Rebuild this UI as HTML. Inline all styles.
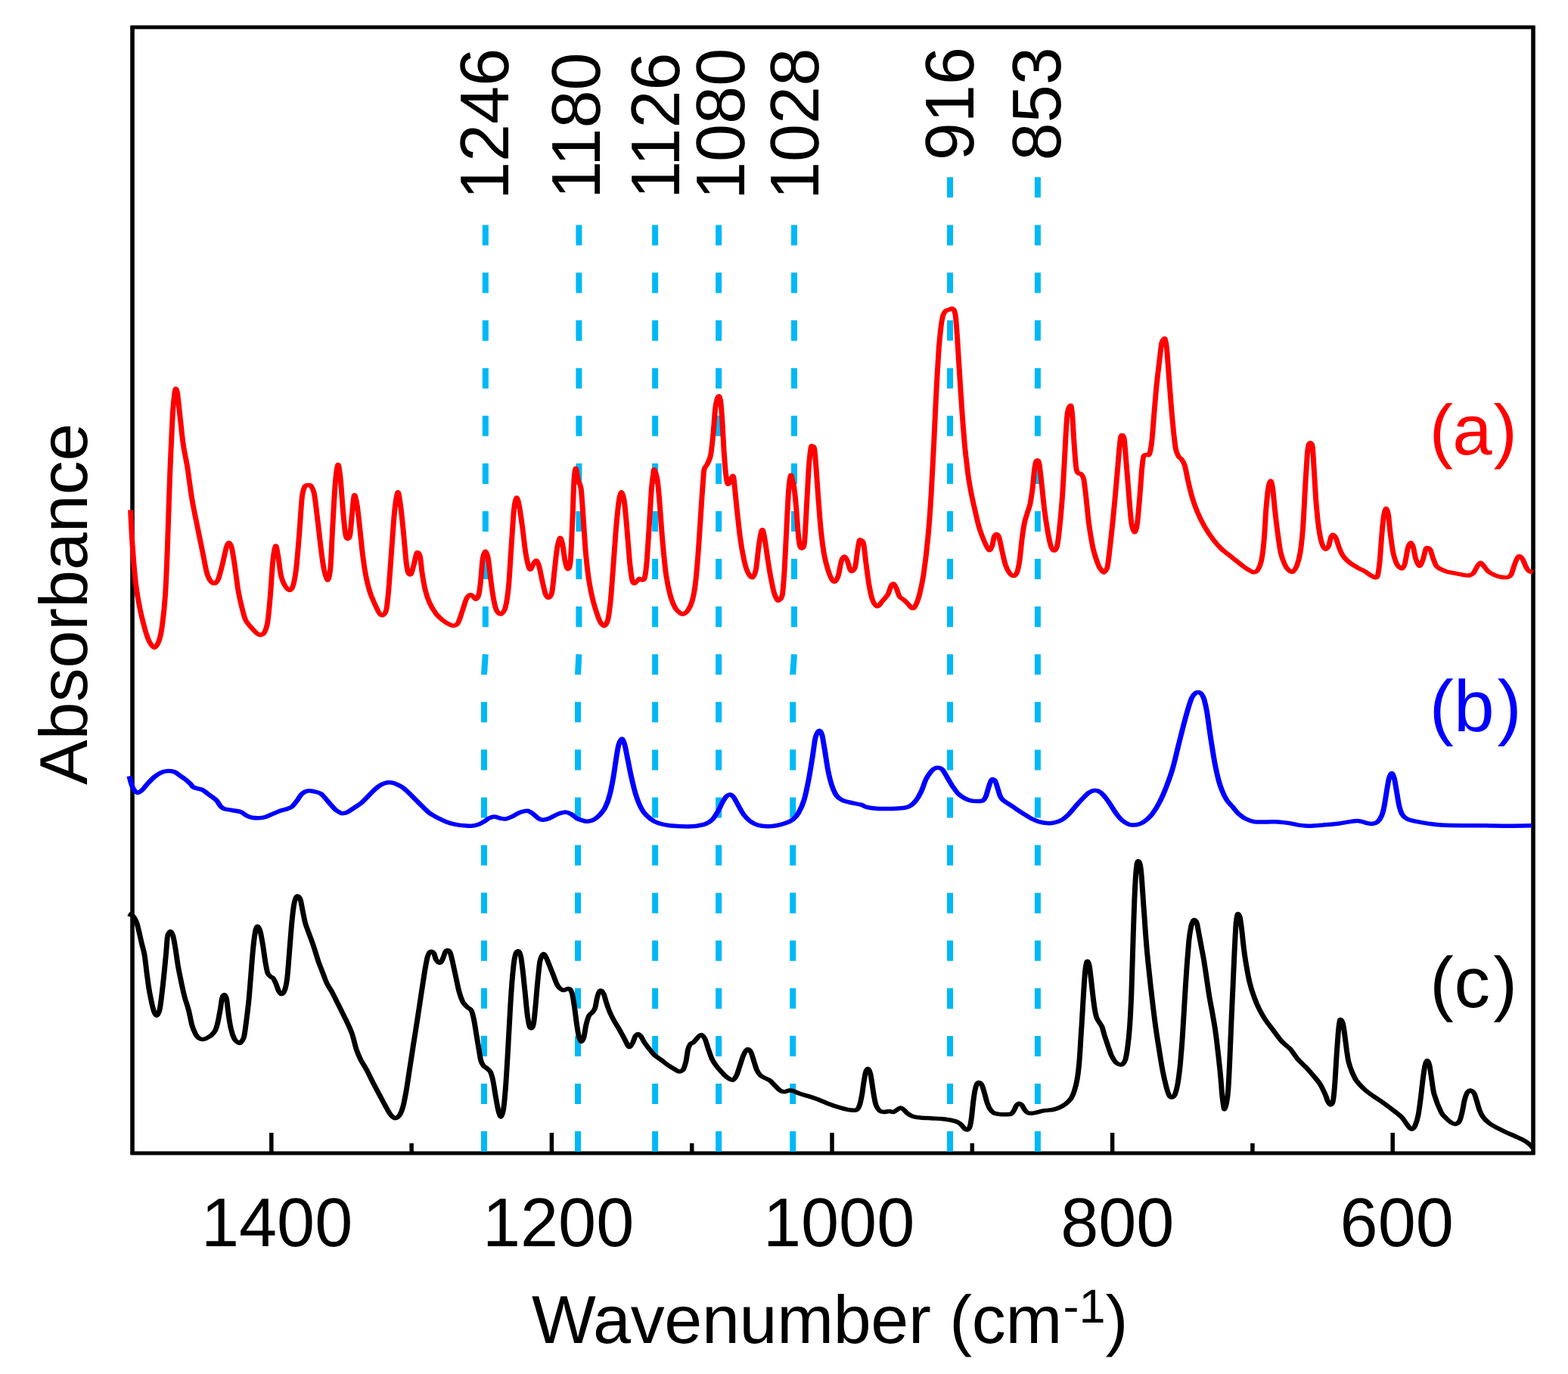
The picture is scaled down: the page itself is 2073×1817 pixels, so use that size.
<!DOCTYPE html>
<html lang="en">
<head>
<meta charset="utf-8">
<title>FTIR absorbance spectra</title>
<style>
html,body{margin:0;padding:0;background:#fff;}
body{width:2073px;height:1817px;overflow:hidden;font-family:"Liberation Sans",sans-serif;}
svg text{text-rendering:geometricPrecision;}
</style>
</head>
<body>
<svg width="2073" height="1817" viewBox="0 0 2073 1817" style="display:block">
<rect x="0" y="0" width="2073" height="1817" fill="#fff"/>
<g stroke="#000" fill="none" stroke-linecap="butt">
<line x1="172.80" y1="35.95" x2="2029.20" y2="35.95" stroke-width="5.0"/>
<line x1="172.80" y1="1525" x2="2029.20" y2="1525" stroke-width="5.0"/>
<line x1="175" y1="34.05" x2="175" y2="1526.90" stroke-width="5.6"/>
<line x1="2027" y1="34.05" x2="2027" y2="1526.90" stroke-width="5.6"/>
</g>
<g stroke="#000" stroke-width="5.5">
<line x1="358.8" y1="1525" x2="358.8" y2="1498"/>
<line x1="544.1" y1="1525" x2="544.1" y2="1511.8"/>
<line x1="729.4" y1="1525" x2="729.4" y2="1498"/>
<line x1="914.7" y1="1525" x2="914.7" y2="1511.8"/>
<line x1="1100.0" y1="1525" x2="1100.0" y2="1498"/>
<line x1="1285.3" y1="1525" x2="1285.3" y2="1511.8"/>
<line x1="1470.6" y1="1525" x2="1470.6" y2="1498"/>
<line x1="1655.9" y1="1525" x2="1655.9" y2="1511.8"/>
<line x1="1841.2" y1="1525" x2="1841.2" y2="1498"/>
</g>
<g fill="none" stroke="#00b8f6" stroke-width="8" stroke-dasharray="27.05 36.04">
<polyline points="641.8,297.4 641.8,865 640,892 640,1523"/>
<polyline points="765.4,297.4 765.4,865 764,892 764,1523"/>
<polyline points="866.1,297.4 866.1,1523"/>
<polyline points="950.1,297.4 950.1,1523"/>
<polyline points="1050,297.4 1050,865 1048.2,892 1048.2,1523"/>
<polyline points="1256,234.3 1256,1523"/>
<polyline points="1371.9,234.3 1371.9,1523"/>
</g>
<g fill="none" stroke-linejoin="round" stroke-linecap="butt" transform="scale(1.27,1)">
<path stroke="#000" stroke-width="5.5" d="M133.6,1208.8C134.3,1209.1 136.9,1209.4 138.2,1211.1C139.5,1212.7 141.2,1216.3 142.2,1219.7C143.2,1223.2 144.3,1229.7 145.1,1233.9C145.9,1238.2 146.8,1243.9 147.6,1248.1C148.4,1252.3 149.5,1256.4 150.3,1261.8C151.1,1267.3 152.0,1278.2 152.6,1284.7C153.3,1291.2 154.1,1299.5 154.8,1305.3C155.5,1311.1 156.7,1318.8 157.5,1323.6C158.3,1328.4 159.4,1334.4 160.2,1337.3C161.0,1340.3 162.0,1343.2 162.9,1343.1C163.8,1342.9 165.2,1340.1 166.0,1336.2C166.8,1332.3 167.6,1323.8 168.3,1316.8C169.0,1309.7 170.0,1297.5 170.7,1289.3C171.3,1281.1 172.3,1269.4 172.8,1261.8C173.4,1254.3 173.8,1243.3 174.3,1239.0C174.7,1234.7 175.5,1234.3 176.1,1233.2C176.6,1232.2 177.3,1231.6 177.9,1232.1C178.5,1232.6 179.3,1233.2 180.0,1236.7C180.8,1240.1 181.9,1248.8 182.7,1255.0C183.5,1261.2 184.5,1271.0 185.4,1277.9C186.4,1284.7 188.0,1294.6 189.0,1300.7C190.1,1306.9 191.2,1313.9 192.3,1319.0C193.4,1324.2 195.1,1329.6 196.2,1335.1C197.4,1340.5 198.8,1350.8 199.8,1355.6C200.9,1360.4 202.4,1364.5 203.4,1367.1C204.5,1369.7 206.0,1371.7 207.0,1372.8C208.1,1373.9 209.4,1374.4 210.7,1374.4C211.9,1374.4 213.8,1373.6 215.2,1372.8C216.5,1372.0 218.3,1370.9 219.7,1369.4C221.0,1367.8 223.1,1365.3 224.2,1362.5C225.2,1359.8 226.1,1355.5 226.9,1351.1C227.7,1346.6 228.9,1337.6 229.6,1332.8C230.2,1328.0 230.7,1321.6 231.4,1319.0C232.0,1316.5 233.0,1315.3 233.7,1315.6C234.4,1316.0 235.3,1317.7 235.9,1321.3C236.5,1324.9 237.0,1333.8 237.7,1339.6C238.3,1345.5 239.4,1355.1 240.4,1360.2C241.3,1365.4 242.9,1371.2 244.0,1373.9C245.1,1376.7 246.6,1377.8 247.6,1378.5C248.5,1379.3 249.3,1380.0 250.3,1379.0C251.2,1378.0 252.9,1376.2 253.9,1371.7C254.8,1367.1 255.8,1356.7 256.6,1348.8C257.4,1340.9 258.6,1328.6 259.3,1319.0C260.0,1309.4 260.8,1295.0 261.5,1284.7C262.1,1274.4 263.1,1258.6 263.8,1250.4C264.5,1242.2 265.5,1233.6 266.1,1229.8C266.8,1226.0 267.6,1224.9 268.3,1225.2C269.0,1225.6 270.2,1228.3 271.0,1232.1C271.8,1235.9 272.9,1244.2 273.7,1250.4C274.5,1256.6 275.6,1267.8 276.4,1273.3C277.2,1278.8 277.9,1284.3 278.7,1287.0C279.6,1289.8 280.9,1290.6 281.8,1291.6C282.7,1292.6 283.7,1292.5 284.5,1293.9C285.3,1295.2 286.4,1298.3 287.2,1300.7C288.0,1303.1 289.1,1307.8 289.9,1309.9C290.7,1311.9 291.7,1314.5 292.6,1314.5C293.6,1314.5 295.3,1313.0 296.2,1309.9C297.2,1306.8 298.2,1301.1 298.9,1293.9C299.7,1286.7 300.4,1272.1 301.1,1261.8C301.8,1251.5 302.7,1234.8 303.4,1225.2C304.1,1215.6 305.1,1203.4 305.8,1197.8C306.4,1192.1 307.3,1189.4 307.9,1187.5C308.6,1185.6 309.4,1184.9 310.1,1185.2C310.8,1185.5 312.0,1186.9 312.8,1189.8C313.5,1192.7 314.4,1200.0 315.1,1204.6C315.9,1209.3 316.8,1215.9 317.8,1220.7C318.9,1225.5 321.0,1231.9 322.3,1236.7C323.7,1241.5 325.5,1247.5 326.8,1252.7C328.2,1257.8 330.0,1266.0 331.3,1271.0C332.7,1276.0 334.5,1281.4 335.8,1285.9C337.2,1290.3 338.9,1296.8 340.4,1300.7C341.8,1304.7 343.9,1307.7 345.8,1312.2C347.6,1316.6 350.8,1325.0 353.0,1330.5C355.1,1336.0 358.1,1343.3 360.2,1348.8C362.2,1354.3 364.9,1361.2 366.5,1367.1C368.1,1372.9 369.6,1382.5 371.0,1387.7C372.3,1392.8 373.9,1397.3 375.5,1401.4C377.1,1405.5 379.8,1410.3 381.8,1415.1C383.8,1419.9 386.8,1428.1 389.0,1433.4C391.2,1438.7 394.2,1445.8 396.2,1450.6C398.2,1455.4 400.9,1461.9 402.5,1465.5C404.1,1469.1 405.7,1472.6 407.0,1474.6C408.4,1476.6 410.2,1478.7 411.5,1478.7C412.9,1478.7 414.8,1476.9 416.0,1474.6C417.2,1472.3 418.5,1468.3 419.6,1463.2C420.7,1458.0 422.1,1448.2 423.2,1440.3C424.3,1432.4 425.7,1419.5 426.8,1410.6C427.9,1401.6 429.3,1390.1 430.4,1380.8C431.6,1371.5 433.2,1358.7 434.4,1348.8C435.6,1338.8 437.4,1324.1 438.5,1314.5C439.7,1304.9 441.2,1291.9 442.1,1284.7C443.1,1277.5 444.1,1270.2 444.8,1266.4C445.6,1262.6 446.3,1260.8 447.0,1259.6C447.7,1258.4 448.6,1258.2 449.3,1258.4C450.0,1258.6 451.0,1259.2 451.7,1260.7C452.4,1262.2 453.1,1266.9 453.8,1268.7C454.6,1270.5 455.7,1272.3 456.5,1272.8C457.4,1273.3 458.5,1273.1 459.2,1272.1C460.0,1271.2 460.7,1268.5 461.4,1266.4C462.1,1264.4 463.0,1259.9 463.8,1258.4C464.5,1257.0 465.7,1256.6 466.5,1256.8C467.2,1257.0 467.9,1257.4 468.6,1259.6C469.3,1261.7 470.1,1266.2 471.0,1271.0C471.8,1275.8 473.4,1285.4 474.5,1291.6C475.5,1297.8 477.0,1307.2 478.1,1312.2C479.2,1317.2 480.5,1321.8 481.7,1324.8C482.9,1327.7 484.8,1329.9 486.2,1331.6C487.5,1333.3 489.6,1333.6 490.7,1336.2C491.8,1338.8 492.6,1343.8 493.4,1348.8C494.2,1353.8 495.3,1363.2 496.1,1369.4C496.9,1375.5 498.1,1385.0 498.8,1390.0C499.5,1394.9 499.9,1399.6 500.6,1402.5C501.3,1405.5 502.4,1407.9 503.3,1409.4C504.2,1411.0 505.8,1411.6 506.9,1412.8C508.0,1414.0 509.6,1415.0 510.5,1417.4C511.4,1419.8 512.4,1424.0 513.2,1428.9C514.0,1433.7 515.1,1443.6 515.9,1449.4C516.7,1455.3 517.8,1463.6 518.6,1467.7C519.4,1471.9 520.5,1476.9 521.3,1476.9C522.1,1476.9 523.3,1473.2 524.0,1467.7C524.7,1462.3 525.5,1451.3 526.2,1440.3C526.9,1429.3 527.8,1409.6 528.5,1394.5C529.2,1379.4 530.2,1354.0 530.9,1339.6C531.5,1325.2 532.4,1308.7 533.0,1298.4C533.7,1288.2 534.5,1276.8 535.2,1271.0C535.9,1265.2 536.8,1261.4 537.5,1259.6C538.3,1257.7 539.5,1257.4 540.2,1258.4C541.0,1259.4 541.7,1261.8 542.4,1266.4C543.1,1271.1 544.0,1281.4 544.7,1289.3C545.4,1297.2 546.4,1310.8 547.1,1319.0C547.7,1327.3 548.6,1338.4 549.2,1344.2C549.9,1350.0 550.7,1355.7 551.4,1357.9C552.1,1360.2 553.1,1359.8 553.7,1359.1C554.4,1358.4 555.0,1357.3 555.5,1353.4C556.1,1349.4 556.7,1340.7 557.3,1332.8C557.9,1324.9 558.8,1309.7 559.5,1300.7C560.2,1291.8 561.2,1278.8 561.8,1273.3C562.5,1267.8 563.3,1265.8 564.0,1264.1C564.7,1262.4 565.6,1261.3 566.3,1261.8C567.1,1262.4 568.1,1265.0 569.0,1267.6C570.0,1270.1 571.6,1275.6 572.7,1279.0C573.7,1282.4 575.2,1287.0 576.3,1290.4C577.3,1293.9 578.8,1299.3 579.9,1301.9C580.9,1304.5 582.4,1306.5 583.5,1307.6C584.5,1308.7 586.0,1309.4 587.1,1309.4C588.1,1309.4 589.7,1307.8 590.7,1307.6C591.6,1307.4 592.6,1307.0 593.4,1308.1C594.1,1309.1 595.0,1311.1 595.7,1314.5C596.4,1317.8 597.2,1325.0 597.9,1330.5C598.5,1336.0 599.4,1345.2 600.0,1351.1C600.7,1356.9 601.6,1365.4 602.4,1369.4C603.1,1373.3 604.3,1377.0 605.1,1377.4C605.9,1377.7 607.0,1374.9 607.8,1371.7C608.5,1368.4 609.3,1359.9 610.1,1355.6C610.9,1351.4 612.2,1345.6 613.2,1343.1C614.2,1340.5 615.8,1340.0 616.8,1338.5C617.7,1336.9 618.8,1335.7 619.5,1332.8C620.2,1329.8 621.0,1322.3 621.7,1319.0C622.3,1315.8 623.3,1312.3 624.0,1311.0C624.7,1309.7 625.5,1309.8 626.2,1310.3C626.8,1310.9 627.7,1312.1 628.5,1314.5C629.3,1316.8 630.3,1322.3 631.2,1325.9C632.1,1329.5 633.6,1334.9 634.8,1338.5C636.0,1342.1 637.8,1346.5 639.3,1349.9C640.8,1353.4 643.1,1357.8 644.7,1361.4C646.3,1365.0 648.8,1370.7 650.1,1373.9C651.5,1377.2 652.9,1381.6 653.7,1383.1C654.6,1384.6 655.1,1384.9 655.9,1384.2C656.6,1383.6 657.9,1380.6 658.8,1378.5C659.6,1376.5 660.5,1372.2 661.3,1370.5C662.1,1368.9 663.3,1367.5 664.2,1367.5C665.1,1367.5 666.2,1368.9 667.2,1370.5C668.2,1372.2 669.5,1375.9 670.8,1378.5C672.2,1381.1 674.6,1385.1 676.2,1387.7C677.9,1390.2 679.9,1393.6 681.6,1395.7C683.4,1397.7 685.9,1399.5 687.9,1401.4C690.0,1403.3 693.0,1406.4 695.1,1408.3C697.3,1410.2 700.6,1412.7 702.4,1414.0C704.1,1415.3 705.5,1417.0 706.9,1417.0C708.2,1417.0 710.3,1416.0 711.4,1414.0C712.4,1412.0 713.3,1407.6 714.1,1403.7C714.8,1399.7 715.6,1391.1 716.2,1387.7C716.9,1384.2 717.7,1382.3 718.6,1380.8C719.5,1379.4 721.1,1379.3 722.2,1378.1C723.3,1376.9 724.8,1374.1 725.8,1372.8C726.7,1371.5 727.7,1370.0 728.5,1369.4C729.2,1368.8 730.0,1368.2 730.8,1368.9C731.6,1369.6 732.9,1371.1 733.9,1373.9C734.9,1376.8 736.4,1383.7 737.5,1387.7C738.6,1391.6 739.9,1397.0 741.1,1400.3C742.3,1403.5 744.1,1406.8 745.6,1409.4C747.1,1412.0 749.4,1415.2 751.0,1417.4C752.6,1419.6 754.9,1422.7 756.4,1424.3C757.9,1425.8 759.8,1427.2 760.9,1427.7C762.0,1428.2 762.7,1428.6 763.6,1427.7C764.5,1426.9 765.9,1424.6 766.8,1422.0C767.8,1419.4 768.9,1414.3 769.9,1410.6C770.9,1406.8 772.6,1399.9 773.5,1396.8C774.5,1393.7 775.4,1391.3 776.2,1390.0C777.0,1388.6 778.1,1387.3 778.9,1387.7C779.8,1388.0 781.1,1389.8 782.0,1392.2C782.9,1394.7 784.0,1400.3 784.9,1403.7C785.8,1407.1 786.9,1412.4 787.9,1415.1C788.9,1417.9 790.3,1420.4 791.5,1422.0C792.7,1423.5 794.5,1424.4 796.0,1425.4C797.5,1426.5 799.8,1427.3 801.4,1428.9C803.1,1430.4 805.2,1433.7 806.8,1435.7C808.4,1437.7 810.7,1440.9 812.2,1442.1C813.6,1443.3 815.3,1443.7 816.7,1443.7C818.0,1443.7 819.8,1442.3 821.2,1442.1C822.5,1442.0 824.0,1442.0 825.7,1442.6C827.3,1443.2 829.7,1445.0 832.0,1446.0C834.3,1447.0 838.0,1448.2 841.0,1449.4C844.0,1450.6 848.5,1452.5 851.8,1454.0C855.0,1455.6 859.4,1458.2 862.6,1459.7C865.8,1461.3 870.4,1463.2 873.4,1464.3C876.4,1465.4 880.1,1466.7 882.4,1467.3C884.7,1467.9 887.2,1468.2 888.7,1468.2C890.2,1468.2 891.4,1468.4 892.3,1467.3C893.3,1466.2 894.3,1463.9 895.0,1460.9C895.8,1457.9 896.7,1452.0 897.4,1447.2C898.0,1442.4 898.9,1433.3 899.5,1428.9C900.1,1424.4 900.7,1419.7 901.3,1417.4C901.9,1415.1 902.8,1413.1 903.5,1413.3C904.2,1413.5 905.2,1415.9 905.8,1418.6C906.5,1421.2 907.0,1426.5 907.6,1431.1C908.2,1435.8 909.1,1444.8 909.8,1449.4C910.5,1454.1 911.2,1459.1 912.1,1462.0C913.0,1464.9 914.5,1467.6 915.7,1468.9C917.0,1470.2 918.8,1470.4 920.2,1470.5C921.7,1470.6 924.2,1469.6 925.6,1469.6C927.1,1469.6 928.9,1470.8 930.1,1470.5C931.4,1470.2 932.7,1468.6 933.8,1467.7C934.8,1466.9 936.3,1465.0 937.4,1465.0C938.4,1465.0 939.9,1466.6 941.0,1467.7C942.0,1468.8 943.2,1471.1 944.6,1472.3C945.9,1473.6 947.9,1475.4 950.0,1476.2C952.0,1477.1 955.2,1477.7 958.1,1478.0C960.9,1478.4 965.6,1478.5 968.9,1478.7C972.1,1479.0 976.7,1479.3 979.7,1479.6C982.7,1480.0 986.1,1480.4 988.7,1481.0C991.3,1481.6 994.9,1482.7 996.8,1483.8C998.7,1484.9 1000.2,1487.0 1001.3,1488.3C1002.4,1489.6 1003.2,1491.6 1004.0,1492.5C1004.8,1493.3 1005.9,1494.3 1006.7,1494.1C1007.5,1493.8 1008.7,1492.9 1009.4,1490.6C1010.1,1488.4 1010.7,1484.0 1011.2,1479.2C1011.8,1474.4 1012.5,1464.1 1013.0,1458.6C1013.6,1453.1 1014.2,1446.4 1014.8,1442.6C1015.4,1438.8 1016.3,1435.1 1017.0,1433.4C1017.7,1431.8 1018.6,1431.4 1019.3,1431.6C1020.1,1431.8 1021.2,1432.6 1022.0,1434.6C1022.8,1436.6 1023.9,1441.4 1024.7,1444.9C1025.5,1448.3 1026.6,1454.2 1027.4,1457.5C1028.3,1460.7 1029.4,1464.4 1030.5,1466.6C1031.6,1468.8 1033.1,1470.8 1034.6,1471.9C1036.2,1472.9 1039.0,1473.2 1040.9,1473.5C1042.8,1473.7 1045.5,1473.8 1047.2,1473.7C1049.0,1473.6 1051.4,1473.7 1052.6,1473.0C1053.9,1472.3 1054.5,1470.5 1055.3,1468.9C1056.2,1467.2 1057.2,1463.5 1058.1,1462.0C1058.9,1460.6 1059.9,1459.5 1060.8,1459.3C1061.6,1459.1 1062.6,1459.8 1063.5,1460.9C1064.3,1462.0 1065.3,1465.1 1066.2,1466.6C1067.0,1468.1 1068.3,1470.3 1069.4,1471.2C1070.5,1472.0 1072.0,1472.3 1073.4,1472.3C1074.8,1472.3 1076.9,1471.7 1078.8,1471.2C1080.7,1470.7 1083.5,1469.4 1086.0,1468.9C1088.4,1468.4 1092.5,1468.3 1095.0,1467.7C1097.4,1467.2 1100.0,1466.2 1102.2,1465.0C1104.3,1463.8 1107.5,1461.6 1109.4,1459.7C1111.3,1457.9 1113.4,1455.4 1114.8,1452.9C1116.1,1450.3 1117.5,1446.2 1118.4,1442.6C1119.3,1439.0 1120.3,1434.3 1121.1,1428.9C1121.9,1423.4 1122.8,1414.6 1123.4,1406.0C1124.1,1397.4 1124.7,1382.0 1125.2,1371.7C1125.8,1361.4 1126.4,1347.0 1126.9,1337.3C1127.3,1327.7 1127.9,1315.5 1128.3,1307.6C1128.7,1299.7 1129.2,1289.9 1129.6,1284.7C1130.0,1279.6 1130.6,1275.3 1131.0,1273.3C1131.4,1271.3 1132.0,1270.8 1132.4,1271.5C1132.9,1272.1 1133.6,1274.8 1134.1,1277.9C1134.5,1280.9 1135.0,1286.4 1135.5,1291.6C1136.0,1296.7 1136.8,1306.3 1137.3,1312.2C1137.9,1318.0 1138.5,1325.5 1139.1,1330.5C1139.7,1335.5 1140.6,1342.1 1141.5,1345.3C1142.3,1348.6 1143.7,1350.3 1144.5,1352.2C1145.4,1354.1 1146.4,1355.4 1147.2,1357.9C1148.0,1360.5 1148.9,1365.6 1149.8,1369.4C1150.8,1373.1 1152.4,1379.2 1153.4,1383.1C1154.5,1387.0 1155.8,1392.4 1157.0,1395.7C1158.3,1398.9 1160.2,1403.0 1161.5,1404.8C1162.9,1406.7 1165.0,1407.5 1166.1,1407.8C1167.1,1408.1 1167.9,1408.1 1168.8,1407.1C1169.6,1406.2 1170.7,1404.7 1171.5,1401.4C1172.2,1398.1 1173.1,1391.9 1173.8,1385.4C1174.5,1378.9 1175.4,1368.6 1176.0,1357.9C1176.6,1347.3 1177.3,1329.6 1177.8,1314.5C1178.2,1299.4 1178.8,1273.4 1179.2,1257.3C1179.6,1241.1 1180.1,1220.0 1180.5,1206.9C1180.8,1193.9 1181.3,1179.6 1181.7,1170.3C1182.1,1161.1 1182.7,1149.9 1183.2,1145.2C1183.6,1140.4 1184.1,1139.1 1184.6,1138.8C1185.1,1138.4 1186.2,1140.2 1186.8,1142.9C1187.3,1145.6 1187.8,1151.1 1188.2,1156.6C1188.6,1162.1 1189.0,1171.2 1189.5,1179.5C1189.9,1187.7 1190.7,1201.9 1191.3,1211.5C1191.8,1221.1 1192.4,1233.2 1193.1,1243.5C1193.7,1253.8 1194.8,1268.5 1195.8,1280.1C1196.7,1291.8 1198.3,1309.7 1199.4,1321.3C1200.5,1333.0 1201.9,1348.0 1203.0,1357.9C1204.1,1367.9 1205.5,1379.1 1206.6,1387.7C1207.7,1396.3 1209.1,1407.9 1210.2,1415.1C1211.3,1422.3 1212.8,1430.7 1213.8,1435.7C1214.8,1440.7 1216.1,1446.0 1217.0,1448.3C1218.0,1450.6 1219.2,1451.2 1220.1,1451.0C1221.0,1450.9 1222.3,1449.8 1223.2,1447.2C1224.0,1444.5 1225.2,1439.3 1226.0,1433.4C1226.8,1427.6 1227.8,1417.5 1228.6,1408.3C1229.3,1399.0 1230.2,1384.0 1230.9,1371.7C1231.6,1359.3 1232.4,1339.6 1233.1,1325.9C1233.7,1312.2 1234.7,1292.5 1235.4,1280.1C1236.1,1267.8 1237.1,1251.8 1237.7,1243.5C1238.4,1235.3 1239.3,1229.0 1239.9,1225.2C1240.5,1221.5 1241.2,1219.7 1241.7,1218.4C1242.3,1217.1 1242.9,1216.2 1243.5,1216.5C1244.1,1216.9 1245.2,1218.0 1245.9,1220.7C1246.5,1223.3 1247.3,1229.6 1248.0,1234.4C1248.7,1239.2 1249.9,1247.2 1250.7,1252.7C1251.5,1258.2 1252.6,1264.8 1253.4,1271.0C1254.2,1277.2 1255.3,1287.0 1256.1,1293.9C1256.9,1300.7 1257.9,1309.9 1258.8,1316.8C1259.7,1323.6 1261.1,1332.8 1262.1,1339.6C1263.0,1346.5 1264.3,1355.0 1265.1,1362.5C1266.0,1370.1 1267.0,1381.0 1267.8,1390.0C1268.6,1398.9 1269.9,1413.1 1270.5,1422.0C1271.2,1430.9 1271.8,1443.3 1272.3,1449.4C1272.8,1455.6 1273.4,1460.6 1273.8,1463.2C1274.1,1465.7 1274.2,1467.3 1274.7,1466.6C1275.1,1465.9 1276.2,1462.5 1276.8,1458.6C1277.4,1454.6 1278.2,1448.5 1278.6,1440.3C1279.1,1432.1 1279.6,1417.4 1280.1,1403.7C1280.6,1390.0 1281.3,1364.6 1281.9,1348.8C1282.4,1333.0 1283.2,1312.9 1283.7,1298.4C1284.2,1284.0 1284.8,1264.4 1285.3,1252.7C1285.8,1241.0 1286.3,1227.0 1286.7,1220.7C1287.2,1214.3 1287.7,1212.2 1288.0,1210.4C1288.4,1208.6 1288.7,1208.3 1289.1,1208.8C1289.5,1209.3 1290.3,1210.6 1290.9,1213.8C1291.4,1217.0 1292.1,1223.6 1292.7,1229.8C1293.3,1236.0 1294.1,1247.8 1294.9,1255.0C1295.6,1262.2 1296.6,1271.0 1297.6,1277.9C1298.5,1284.7 1299.9,1294.6 1301.2,1300.7C1302.4,1306.9 1304.2,1313.9 1305.7,1319.0C1307.1,1324.2 1309.3,1330.6 1311.1,1335.1C1312.8,1339.5 1315.2,1344.7 1317.4,1348.8C1319.5,1352.9 1322.9,1358.2 1325.5,1362.5C1328.0,1366.8 1331.8,1373.6 1334.5,1377.4C1337.2,1381.2 1341.1,1384.2 1343.5,1387.7C1345.9,1391.1 1348.3,1396.7 1350.7,1400.3C1353.1,1403.9 1357.3,1408.4 1359.7,1411.7C1362.1,1415.0 1364.7,1418.7 1366.9,1422.0C1369.1,1425.3 1372.2,1429.7 1374.1,1433.4C1376.0,1437.2 1378.3,1443.7 1379.5,1447.2C1380.7,1450.6 1381.4,1454.2 1382.2,1456.3C1383.0,1458.4 1384.1,1460.9 1384.9,1460.9C1385.7,1460.9 1387.0,1460.1 1387.6,1456.3C1388.3,1452.5 1388.9,1444.3 1389.4,1435.7C1390.0,1427.1 1390.7,1409.4 1391.2,1399.1C1391.8,1388.8 1392.5,1374.3 1393.0,1367.1C1393.5,1359.9 1394.1,1353.9 1394.5,1351.1C1394.9,1348.3 1395.2,1348.0 1395.7,1348.3C1396.2,1348.7 1397.3,1350.5 1397.9,1353.4C1398.5,1356.2 1399.1,1361.6 1399.7,1367.1C1400.3,1372.6 1401.4,1384.5 1402.0,1390.0C1402.7,1395.5 1403.0,1399.6 1403.8,1403.7C1404.6,1407.8 1406.2,1413.6 1407.4,1417.4C1408.7,1421.2 1410.2,1425.6 1411.9,1428.9C1413.7,1432.1 1416.7,1436.2 1419.2,1439.1C1421.6,1442.1 1425.2,1445.6 1428.2,1448.3C1431.1,1451.0 1435.7,1454.5 1439.0,1457.5C1442.2,1460.4 1446.8,1464.8 1449.8,1467.7C1452.7,1470.7 1456.6,1474.2 1458.8,1476.9C1460.9,1479.6 1462.8,1483.8 1464.2,1486.0C1465.5,1488.3 1466.8,1490.7 1467.8,1491.8C1468.7,1492.8 1469.7,1493.4 1470.5,1492.9C1471.3,1492.4 1472.3,1491.1 1473.2,1488.3C1474.1,1485.6 1475.6,1480.1 1476.4,1474.6C1477.3,1469.1 1478.2,1458.9 1479.0,1451.7C1479.7,1444.5 1480.6,1433.1 1481.3,1426.6C1482.0,1420.0 1482.8,1411.9 1483.5,1408.3C1484.1,1404.7 1485.1,1402.5 1485.8,1402.5C1486.5,1402.5 1487.3,1404.7 1488.0,1408.3C1488.6,1411.9 1489.6,1420.7 1490.3,1426.6C1491.1,1432.4 1491.5,1440.5 1493.0,1447.2C1494.5,1453.8 1498.5,1466.4 1500.4,1471.2C1502.4,1476.0 1504.2,1477.1 1505.8,1479.2C1507.5,1481.2 1509.8,1483.8 1511.2,1484.9C1512.7,1486.0 1514.5,1486.6 1515.7,1486.3C1517.0,1485.9 1518.4,1484.9 1519.3,1482.6C1520.3,1480.4 1521.2,1475.5 1522.0,1471.2C1522.9,1466.9 1523.9,1458.0 1524.7,1454.0C1525.6,1450.1 1526.5,1446.7 1527.4,1444.9C1528.4,1443.1 1530.0,1442.0 1531.1,1442.1C1532.1,1442.3 1533.7,1443.9 1534.7,1446.0C1535.6,1448.1 1536.5,1453.0 1537.4,1456.3C1538.2,1459.6 1539.1,1464.7 1540.1,1467.7C1541.0,1470.8 1542.2,1474.3 1543.7,1476.9C1545.1,1479.5 1547.7,1482.7 1550.0,1484.9C1552.3,1487.1 1556.3,1489.9 1559.0,1491.8C1561.7,1493.7 1565.3,1495.9 1568.0,1497.5C1570.7,1499.1 1574.6,1501.1 1577.0,1502.5C1579.4,1503.9 1582.0,1505.2 1584.2,1506.6C1586.4,1508.1 1589.6,1510.6 1591.4,1512.4C1593.2,1514.1 1595.2,1517.2 1595.9,1518.1"/>
<path stroke="#00f" stroke-width="5.5" d="M134.6,1026.3C134.9,1027.7 135.9,1033.3 136.6,1036.0C137.3,1038.8 138.4,1042.8 139.5,1044.6C140.5,1046.4 142.4,1048.3 143.7,1048.3C145.0,1048.3 146.6,1046.4 148.1,1044.6C149.7,1042.8 152.0,1038.6 153.9,1036.0C155.8,1033.5 158.6,1029.6 160.6,1027.5C162.7,1025.4 165.5,1023.0 167.4,1021.9C169.3,1020.7 171.0,1019.8 173.2,1019.7C175.3,1019.5 179.8,1020.1 181.8,1020.9C183.8,1021.7 184.9,1023.5 186.6,1025.0C188.4,1026.6 191.6,1029.4 193.4,1031.1C195.1,1032.9 197.0,1035.1 198.2,1036.5C199.3,1038.0 199.9,1040.0 201.1,1040.9C202.2,1041.9 204.4,1042.3 205.9,1042.9C207.3,1043.4 209.0,1043.4 210.7,1044.6C212.4,1045.8 215.3,1048.7 217.4,1050.7C219.6,1052.7 223.3,1055.7 225.1,1058.0C227.0,1060.4 228.6,1064.8 229.9,1066.6C231.2,1068.4 232.1,1069.0 233.8,1069.8C235.5,1070.5 238.9,1070.9 241.5,1071.5C244.1,1072.1 248.8,1072.8 251.1,1073.9C253.4,1075.0 255.2,1077.7 256.9,1078.8C258.6,1079.9 260.8,1080.8 262.7,1081.3C264.5,1081.7 267.4,1081.9 269.4,1081.8C271.4,1081.7 274.0,1081.3 276.1,1080.5C278.3,1079.7 281.5,1077.6 283.8,1076.4C286.2,1075.1 289.2,1073.3 291.6,1072.2C293.9,1071.2 297.4,1070.4 299.3,1069.5C301.1,1068.7 302.6,1068.1 304.1,1066.6C305.5,1065.1 307.4,1061.7 308.9,1059.3C310.3,1056.9 312.4,1052.5 313.7,1050.7C315.0,1048.9 316.4,1047.8 317.5,1047.0C318.7,1046.3 319.8,1045.8 321.4,1045.8C323.0,1045.8 326.3,1046.5 328.1,1047.0C330.0,1047.6 332.5,1048.4 333.9,1049.5C335.3,1050.6 336.3,1052.4 337.8,1054.4C339.2,1056.4 341.8,1060.5 343.5,1062.9C345.3,1065.4 347.7,1069.0 349.3,1070.8C350.9,1072.5 353.0,1073.9 354.1,1074.7C355.3,1075.4 355.9,1075.8 357.0,1075.6C358.2,1075.5 360.1,1075.0 361.8,1073.9C363.6,1072.8 366.4,1070.1 368.6,1068.3C370.7,1066.5 373.9,1064.2 376.3,1061.7C378.6,1059.3 381.8,1054.7 384.0,1051.9C386.1,1049.2 388.7,1045.6 390.7,1043.4C392.7,1041.2 395.4,1038.5 397.4,1037.3C399.5,1036.0 402.2,1035.0 404.2,1034.8C406.2,1034.6 408.7,1035.1 410.9,1036.0C413.1,1037.0 416.6,1039.3 418.6,1040.9C420.6,1042.6 422.4,1044.7 424.4,1047.0C426.4,1049.4 429.8,1053.9 432.1,1056.8C434.4,1059.8 437.5,1063.8 439.8,1066.6C442.1,1069.4 445.2,1073.4 447.5,1075.6C449.8,1077.8 452.6,1079.6 455.2,1081.3C457.8,1083.0 461.9,1085.5 464.8,1086.9C467.7,1088.3 471.6,1089.6 474.4,1090.3C477.3,1091.1 481.6,1091.5 484.1,1091.8C486.5,1092.1 488.8,1092.5 490.8,1092.3C492.8,1092.1 495.7,1091.4 497.5,1090.6C499.4,1089.8 501.6,1088.2 503.3,1086.9C505.1,1085.6 507.4,1083.0 509.1,1082.0C510.8,1081.0 512.8,1080.0 514.5,1080.0C516.2,1080.0 518.6,1081.6 520.3,1082.0C522.0,1082.4 524.2,1083.3 526.1,1083.0C528.0,1082.7 530.6,1081.3 532.8,1080.0C535.0,1078.8 538.1,1075.8 540.5,1074.7C543.0,1073.5 547.0,1072.0 549.2,1072.2C551.3,1072.5 553.2,1074.8 555.0,1076.4C556.7,1077.9 559.1,1081.3 560.7,1082.5C562.3,1083.7 563.8,1084.3 565.5,1084.2C567.3,1084.1 570.0,1083.2 572.3,1082.0C574.6,1080.8 578.5,1077.6 580.9,1076.4C583.4,1075.2 586.6,1073.9 588.6,1073.9C590.7,1073.9 592.7,1075.2 594.4,1076.4C596.2,1077.6 598.5,1080.7 600.2,1082.0C601.9,1083.3 604.2,1084.3 606.0,1084.9C607.7,1085.6 609.9,1086.3 611.7,1086.2C613.6,1086.0 616.6,1085.0 618.5,1083.7C620.4,1082.4 622.5,1080.0 624.3,1077.6C626.0,1075.2 628.4,1071.9 630.0,1067.8C631.6,1063.8 633.6,1056.9 634.8,1050.7C636.1,1044.5 637.7,1033.6 638.7,1026.3C639.7,1018.9 640.8,1008.0 641.6,1001.8C642.4,995.6 643.2,988.4 644.1,984.7C645.0,981.0 646.4,976.9 647.4,976.9C648.3,976.9 649.4,981.0 650.3,984.7C651.1,988.4 652.1,995.6 653.1,1001.8C654.1,1008.0 655.7,1018.9 657.0,1026.3C658.3,1033.6 660.2,1044.3 661.8,1050.7C663.4,1057.1 665.8,1064.8 667.6,1069.0C669.3,1073.3 671.3,1076.3 673.4,1078.8C675.4,1081.4 678.5,1084.4 681.1,1086.2C683.7,1087.9 687.5,1089.4 690.7,1090.3C693.9,1091.2 698.5,1091.9 702.2,1092.3C706.0,1092.7 712.2,1093.0 715.7,1093.0C719.2,1093.0 722.4,1092.8 725.3,1092.3C728.2,1091.7 732.5,1090.6 735.0,1089.3C737.4,1088.1 739.8,1086.2 741.7,1083.7C743.6,1081.2 745.9,1076.2 747.5,1072.7C749.1,1069.2 751.0,1063.4 752.3,1060.5C753.6,1057.6 755.0,1054.6 756.1,1053.2C757.3,1051.7 758.8,1050.5 760.0,1050.7C761.1,1050.9 762.5,1052.2 763.8,1054.4C765.1,1056.6 767.1,1061.9 768.7,1065.4C770.2,1068.9 772.5,1074.5 774.4,1077.6C776.3,1080.7 779.0,1084.1 781.2,1086.2C783.3,1088.2 786.3,1090.1 788.9,1091.1C791.5,1092.0 795.6,1092.7 798.5,1092.8C801.4,1092.9 805.2,1092.4 808.1,1091.8C811.0,1091.2 815.1,1089.8 817.7,1088.6C820.3,1087.4 823.4,1085.7 825.4,1083.7C827.5,1081.7 829.5,1079.0 831.2,1075.2C833.0,1071.3 835.4,1064.6 837.0,1058.0C838.6,1051.4 840.5,1039.6 841.8,1031.1C843.1,1022.7 844.6,1009.9 845.7,1001.8C846.7,993.7 847.8,982.3 848.5,977.4C849.3,972.4 850.1,970.5 850.9,968.8C851.6,967.2 852.6,965.8 853.4,966.4C854.1,966.9 855.1,968.6 855.9,972.5C856.6,976.3 857.6,985.1 858.6,992.0C859.5,999.0 860.9,1012.0 862.0,1018.9C863.1,1025.9 864.6,1033.5 865.9,1038.5C867.2,1043.4 869.1,1049.0 870.7,1051.9C872.3,1054.9 874.4,1056.7 876.5,1058.0C878.5,1059.4 881.2,1060.1 884.2,1061.0C887.1,1061.9 893.6,1063.2 896.3,1064.2C899.0,1065.1 899.9,1066.6 902.1,1067.3C904.3,1068.1 908.0,1068.7 910.8,1069.0C913.5,1069.4 917.2,1069.5 920.4,1069.5C923.6,1069.6 928.8,1069.5 931.9,1069.3C935.1,1069.1 939.3,1068.8 941.6,1068.3C943.9,1067.8 945.6,1067.2 947.3,1065.9C949.1,1064.5 951.4,1062.1 953.1,1059.3C954.9,1056.4 957.3,1051.3 958.9,1047.0C960.5,1042.8 962.3,1035.0 963.7,1031.1C965.2,1027.3 967.1,1023.6 968.5,1021.4C970.0,1019.1 972.0,1016.9 973.3,1016.0C974.6,1015.1 976.0,1015.0 977.2,1015.3C978.3,1015.5 979.7,1015.9 981.0,1017.7C982.3,1019.5 984.3,1024.2 985.8,1027.5C987.4,1030.8 989.9,1036.4 991.6,1039.7C993.4,1043.0 995.5,1047.1 997.4,1049.5C999.3,1051.9 1002.1,1054.2 1004.1,1055.6C1006.2,1057.0 1008.9,1058.2 1010.9,1058.8C1012.9,1059.4 1015.7,1059.5 1017.6,1059.5C1019.5,1059.5 1022.1,1059.5 1023.4,1058.5C1024.7,1057.6 1025.4,1055.8 1026.3,1053.2C1027.1,1050.5 1028.4,1044.0 1029.2,1040.9C1030.0,1037.8 1030.9,1033.9 1031.7,1032.4C1032.4,1030.8 1033.3,1030.5 1034.0,1030.7C1034.7,1030.8 1035.6,1031.7 1036.3,1033.6C1037.0,1035.5 1038.0,1040.4 1038.8,1043.4C1039.5,1046.3 1040.4,1050.9 1041.3,1053.2C1042.2,1055.4 1043.1,1056.9 1044.6,1058.5C1046.1,1060.2 1049.1,1062.3 1051.3,1064.2C1053.5,1066.0 1056.7,1068.8 1059.0,1070.8C1061.3,1072.7 1064.4,1075.3 1066.7,1077.1C1069.0,1078.9 1072.1,1081.5 1074.4,1083.0C1076.7,1084.4 1079.8,1086.1 1082.1,1086.9C1084.4,1087.7 1087.5,1088.5 1089.8,1088.6C1092.1,1088.8 1095.2,1088.5 1097.5,1087.9C1099.8,1087.2 1102.9,1086.2 1105.2,1084.4C1107.5,1082.7 1110.6,1079.3 1112.9,1076.4C1115.2,1073.4 1118.3,1068.2 1120.6,1064.9C1122.9,1061.6 1126.3,1056.9 1128.3,1054.4C1130.3,1051.8 1132.4,1049.1 1134.1,1047.8C1135.8,1046.4 1138.1,1045.3 1139.9,1045.3C1141.6,1045.3 1143.9,1046.2 1145.6,1047.8C1147.4,1049.3 1149.7,1052.8 1151.4,1055.6C1153.1,1058.4 1155.5,1063.3 1157.2,1066.6C1158.9,1069.9 1161.2,1074.8 1163.0,1077.6C1164.7,1080.4 1167.0,1083.6 1168.7,1085.4C1170.5,1087.3 1172.9,1089.0 1174.5,1089.8C1176.1,1090.7 1177.6,1091.1 1179.3,1091.1C1181.1,1091.1 1184.0,1090.7 1186.1,1089.8C1188.1,1088.9 1190.8,1087.0 1192.8,1084.9C1194.8,1082.9 1197.4,1080.0 1199.5,1076.4C1201.7,1072.7 1205.1,1065.8 1207.2,1060.5C1209.4,1055.2 1212.0,1047.5 1214.0,1040.9C1216.0,1034.3 1218.8,1024.5 1220.7,1016.5C1222.6,1008.4 1224.8,995.9 1226.5,987.1C1228.2,978.3 1230.7,965.5 1232.3,957.8C1233.9,950.1 1235.8,941.1 1237.1,935.8C1238.4,930.5 1239.8,925.3 1240.9,922.3C1242.1,919.4 1243.8,917.3 1244.8,916.2C1245.8,915.2 1246.8,915.3 1247.7,915.5C1248.5,915.7 1249.7,916.1 1250.6,917.5C1251.4,918.9 1252.6,921.3 1253.5,924.8C1254.3,928.3 1255.5,935.0 1256.3,940.7C1257.1,946.4 1258.0,955.7 1258.8,962.7C1259.6,969.7 1260.8,980.2 1261.7,987.1C1262.6,994.1 1263.6,1002.5 1264.6,1009.1C1265.6,1015.7 1267.3,1025.6 1268.4,1031.1C1269.6,1036.7 1271.0,1041.8 1272.3,1045.8C1273.6,1049.9 1275.5,1054.9 1277.1,1058.0C1278.7,1061.2 1281.1,1064.0 1282.9,1066.6C1284.6,1069.2 1286.6,1072.8 1288.6,1075.2C1290.7,1077.5 1293.7,1080.8 1296.3,1082.5C1298.9,1084.2 1302.5,1086.0 1306.0,1086.7C1309.4,1087.3 1315.7,1086.9 1319.4,1086.9C1323.2,1086.9 1327.5,1086.6 1331.0,1086.9C1334.5,1087.2 1339.4,1088.0 1342.5,1088.6C1345.7,1089.2 1349.0,1090.5 1352.2,1091.1C1355.3,1091.6 1360.0,1092.3 1363.7,1092.3C1367.5,1092.3 1372.9,1091.5 1377.2,1091.1C1381.5,1090.6 1388.6,1090.0 1392.6,1089.3C1396.6,1088.7 1401.1,1087.5 1404.1,1086.9C1407.2,1086.3 1410.6,1085.4 1412.8,1085.4C1415.0,1085.4 1416.9,1086.4 1418.6,1086.9C1420.3,1087.4 1422.8,1088.5 1424.4,1088.9C1426.0,1089.2 1427.7,1089.6 1429.2,1089.3C1430.6,1089.0 1432.7,1088.3 1434.0,1086.9C1435.3,1085.5 1436.8,1082.9 1437.8,1080.0C1438.9,1077.2 1439.9,1073.0 1440.7,1067.8C1441.6,1062.7 1442.8,1051.7 1443.6,1045.8C1444.4,1040.0 1445.3,1032.2 1446.1,1028.7C1446.9,1025.2 1448.0,1022.6 1448.8,1022.6C1449.6,1022.6 1450.6,1025.2 1451.3,1028.7C1452.1,1032.2 1453.0,1040.3 1453.8,1045.8C1454.6,1051.3 1455.6,1060.6 1456.5,1065.4C1457.4,1070.1 1458.7,1075.0 1460.0,1077.6C1461.2,1080.2 1462.8,1081.7 1464.8,1083.0C1466.8,1084.3 1470.1,1085.2 1473.5,1086.2C1476.8,1087.1 1482.9,1088.4 1486.9,1089.1C1491.0,1089.8 1494.9,1090.6 1500.4,1091.1C1505.9,1091.5 1516.6,1091.7 1523.5,1091.8C1530.4,1091.9 1539.7,1091.7 1546.6,1091.8C1553.5,1091.9 1562.5,1092.3 1569.7,1092.3C1576.9,1092.3 1591.0,1091.9 1594.7,1091.8"/>
<path stroke="#f00" stroke-width="5.5" d="M135.9,674.5C136.2,682.1 137.2,710.1 138.1,724.7C138.9,739.4 140.2,760.0 141.4,772.1C142.5,784.3 144.3,796.4 145.8,805.6C147.2,814.8 149.8,827.0 151.2,833.5C152.7,840.0 154.2,845.4 155.6,848.9C157.1,852.3 159.2,856.6 160.7,856.4C162.2,856.2 164.3,851.7 165.5,847.5C166.7,843.2 167.8,837.1 168.8,827.9C169.8,818.7 171.3,801.6 172.1,786.1C172.9,770.6 173.6,748.6 174.3,724.7C175.0,700.9 176.1,653.9 176.9,627.1C177.8,600.3 179.0,562.5 179.8,546.2C180.6,529.9 181.5,523.1 182.0,518.3C182.5,513.5 182.9,513.7 183.3,514.1C183.7,514.5 184.2,515.5 184.8,521.1C185.5,526.8 186.6,541.7 187.5,551.8C188.4,561.8 189.6,578.0 190.8,588.0C191.9,598.1 193.9,608.3 195.2,618.7C196.5,629.2 198.1,646.5 199.6,657.8C201.0,669.1 203.4,683.6 205.1,694.0C206.7,704.5 209.1,718.3 210.5,727.5C212.0,736.7 213.8,749.6 214.9,755.4C216.1,761.3 217.1,764.1 218.2,766.6C219.4,769.0 221.3,771.6 222.6,771.6C223.9,771.6 225.7,770.3 227.0,766.6C228.3,762.9 230.1,753.5 231.4,747.0C232.7,740.6 234.7,727.7 235.8,723.3C236.9,718.9 237.8,717.5 238.7,717.8C239.5,718.0 240.4,719.9 241.3,724.7C242.2,729.5 243.6,741.5 244.6,749.8C245.6,758.2 246.9,773.0 247.9,780.5C248.9,788.0 250.0,794.2 251.2,800.0C252.3,805.9 253.9,815.0 255.6,819.6C257.2,824.2 260.3,828.0 262.2,830.7C264.0,833.4 266.3,836.4 267.7,837.7C269.0,839.0 270.2,839.9 271.4,839.7C272.5,839.4 274.3,838.9 275.3,836.3C276.4,833.7 277.7,829.9 278.6,822.4C279.6,814.8 280.7,798.2 281.5,786.1C282.3,774.0 283.3,751.1 284.1,741.5C284.9,731.8 286.2,722.8 287.0,721.9C287.8,721.1 288.8,730.0 289.6,735.9C290.4,741.7 291.5,755.3 292.5,761.0C293.5,766.6 294.9,770.6 296.2,773.5C297.5,776.5 299.9,780.3 301.3,780.5C302.6,780.7 303.9,779.1 305.0,774.9C306.0,770.8 307.3,763.1 308.3,752.6C309.3,742.2 310.7,719.4 311.6,705.2C312.5,691.0 313.6,667.0 314.4,657.8C315.3,648.6 316.2,646.3 317.1,643.8C318.0,641.4 319.4,641.8 320.4,641.6C321.4,641.4 322.7,640.9 323.7,642.4C324.6,644.0 326.0,646.1 327.0,652.2C327.9,658.3 329.3,672.8 330.2,682.9C331.2,692.9 332.6,709.1 333.5,719.1C334.5,729.2 335.7,742.6 336.8,749.8C337.9,757.0 339.7,766.7 340.8,767.1C341.8,767.5 343.0,763.2 343.9,752.6C344.7,742.1 345.5,713.6 346.3,696.8C347.0,680.1 348.1,653.4 348.9,641.0C349.7,628.7 350.9,615.8 351.8,614.5C352.6,613.3 353.6,623.7 354.4,632.7C355.2,641.7 356.3,663.6 357.0,674.5C357.8,685.4 358.8,699.6 359.5,705.2C360.1,710.9 360.7,711.8 361.4,712.2C362.2,712.6 363.5,712.8 364.3,708.0C365.0,703.2 365.8,688.0 366.5,680.1C367.1,672.1 367.9,657.1 368.7,655.0C369.4,652.9 370.7,660.3 371.5,666.2C372.4,672.0 373.3,684.0 374.2,694.0C375.1,704.1 376.5,723.1 377.5,733.1C378.5,743.1 379.6,753.5 380.8,761.0C381.9,768.5 383.7,777.4 385.2,783.3C386.6,789.2 389.2,795.9 390.6,800.0C392.1,804.2 393.8,809.2 395.0,811.2C396.3,813.2 397.7,814.3 398.8,813.4C399.9,812.6 401.4,811.4 402.3,805.6C403.2,799.8 404.1,787.1 404.9,774.9C405.7,762.8 406.9,739.8 407.8,724.7C408.7,709.7 409.9,685.6 410.9,674.5C411.8,663.4 413.2,651.6 414.1,650.8C415.1,650.0 416.1,661.2 417.0,668.9C417.9,676.7 419.0,692.0 419.9,702.4C420.7,712.9 421.8,730.5 422.5,738.7C423.2,746.8 423.9,753.8 424.7,756.8C425.5,759.8 427.0,760.6 428.0,758.8C429.0,756.9 430.4,748.4 431.3,744.3C432.2,740.1 433.1,732.1 434.0,730.9C434.9,729.6 436.5,731.8 437.3,735.9C438.1,740.0 438.6,751.5 439.5,758.2C440.3,764.9 441.6,774.7 442.8,780.5C443.9,786.4 445.5,792.6 447.2,797.3C448.8,801.9 451.8,807.9 453.7,811.2C455.7,814.5 458.4,817.5 460.3,819.6C462.3,821.7 465.1,824.0 466.9,825.1C468.7,826.3 470.9,827.6 472.4,827.4C473.9,827.2 475.5,826.6 476.8,823.8C478.1,820.9 479.9,813.2 481.2,808.4C482.5,803.6 484.4,794.9 485.6,791.7C486.8,788.4 488.3,787.2 489.3,786.7C490.3,786.2 491.3,787.5 492.2,788.3C493.0,789.2 494.2,792.4 495.0,792.2C495.9,792.1 497.3,790.9 498.1,787.5C498.9,784.1 499.7,776.7 500.3,769.4C501.0,762.0 501.8,744.7 502.5,738.7C503.3,732.6 504.5,728.9 505.4,728.9C506.2,728.9 507.4,733.0 508.2,738.7C509.0,744.3 510.0,758.2 510.9,766.6C511.7,774.9 513.2,788.2 514.2,794.5C515.1,800.7 516.3,805.8 517.4,808.4C518.6,811.0 520.5,812.6 521.8,811.8C523.2,810.9 525.1,808.4 526.2,802.8C527.4,797.3 528.6,786.7 529.5,774.9C530.4,763.2 531.3,739.8 532.2,724.7C533.0,709.7 534.2,684.5 535.0,674.5C535.8,664.6 536.8,659.2 537.7,658.3C538.5,657.5 539.6,663.2 540.5,668.9C541.4,674.7 542.8,687.6 543.8,696.8C544.8,706.0 546.1,722.4 547.1,730.3C548.1,738.3 549.6,746.5 550.4,749.8C551.2,753.2 551.8,753.5 552.6,752.6C553.4,751.8 555.0,745.9 555.9,744.3C556.8,742.6 557.9,740.6 558.7,741.5C559.6,742.3 560.5,745.6 561.4,749.8C562.3,754.0 563.7,763.9 564.7,769.4C565.7,774.8 567.0,783.0 568.0,786.1C568.9,789.2 570.3,790.7 571.3,790.3C572.2,789.9 573.6,789.0 574.6,783.3C575.5,777.7 576.6,761.4 577.4,752.6C578.2,743.8 579.2,730.9 580.0,724.7C580.9,718.5 582.1,712.2 582.9,711.3C583.7,710.5 584.7,714.6 585.5,719.1C586.3,723.7 587.3,736.4 588.2,741.5C589.0,746.5 590.2,752.6 591.0,752.6C591.9,752.6 593.1,751.9 593.9,741.5C594.6,731.0 595.5,698.8 596.1,682.9C596.6,667.0 597.1,645.0 597.6,635.5C598.1,625.9 598.7,619.3 599.4,619.3C600.0,619.3 601.2,631.4 602.0,635.5C602.8,639.6 604.1,639.5 604.9,646.6C605.6,653.7 606.3,670.3 607.1,682.9C607.8,695.4 608.8,717.8 609.7,730.3C610.6,742.9 611.8,756.9 613.0,766.6C614.1,776.2 615.9,786.9 617.4,794.5C618.9,802.0 621.6,812.2 622.9,816.8C624.2,821.4 625.2,823.6 626.2,825.1C627.2,826.7 628.5,828.2 629.5,827.4C630.4,826.5 631.8,824.5 632.8,819.6C633.7,814.6 634.8,804.5 635.6,794.5C636.4,784.4 637.4,766.4 638.2,752.6C639.1,738.8 640.2,715.8 641.1,702.4C642.0,689.0 643.3,671.1 644.2,663.4C645.1,655.6 646.2,650.8 647.0,650.8C647.9,650.8 649.1,656.5 649.9,663.4C650.7,670.3 651.7,685.1 652.5,696.8C653.3,708.5 654.6,731.0 655.4,741.5C656.2,751.9 657.3,762.1 658.0,766.6C658.7,771.1 659.4,771.4 660.2,771.6C661.0,771.8 662.7,768.9 663.5,768.0C664.3,767.0 664.9,765.3 665.7,765.2C666.5,765.0 667.7,767.3 668.6,767.1C669.4,766.9 670.5,767.6 671.2,763.8C671.9,759.9 672.7,752.3 673.4,741.5C674.1,730.6 675.3,705.5 676.0,691.3C676.7,677.0 677.6,656.2 678.2,646.6C678.8,637.0 679.5,630.9 680.0,627.1C680.4,623.2 680.4,619.7 681.1,621.0C681.7,622.2 683.5,629.1 684.4,635.5C685.2,641.8 685.8,652.1 686.6,663.4C687.3,674.7 688.4,696.6 689.4,710.8C690.4,725.0 691.9,746.9 693.2,758.2C694.4,769.5 696.1,779.2 697.5,786.1C699.0,793.0 701.4,800.5 703.0,804.2C704.7,808.0 707.2,810.1 708.5,811.2C709.8,812.3 710.7,812.4 711.8,811.8C713.0,811.1 714.9,809.6 716.2,807.0C717.5,804.4 719.5,799.7 720.6,794.5C721.8,789.2 722.9,782.6 723.9,772.1C724.9,761.7 726.3,740.2 727.2,724.7C728.1,709.2 729.3,683.2 730.1,668.9C730.8,654.7 731.8,637.2 732.3,629.9C732.7,622.6 732.6,622.6 733.2,620.1C733.8,617.6 735.5,615.9 736.5,613.2C737.5,610.4 738.9,607.9 739.8,602.0C740.7,596.1 741.7,583.3 742.4,574.1C743.1,564.9 744.0,547.5 744.6,540.6C745.2,533.7 745.8,530.6 746.4,528.1C747.0,525.6 748.0,523.3 748.6,523.9C749.2,524.5 749.8,527.2 750.3,532.3C750.8,537.3 751.4,547.7 751.9,557.4C752.4,567.0 753.1,586.0 753.6,596.4C754.2,606.9 755.0,620.6 755.6,627.1C756.2,633.6 756.8,638.0 757.4,639.7C757.9,641.3 758.9,639.5 759.6,638.3C760.2,637.0 761.2,632.5 761.7,631.3C762.3,630.1 763.0,628.1 763.5,630.4C764.0,632.7 764.5,640.0 765.0,646.6C765.6,653.2 766.4,664.9 767.2,674.5C768.1,684.1 769.5,701.6 770.5,710.8C771.5,720.0 772.8,729.6 773.8,735.9C774.8,742.2 776.1,748.9 777.1,752.6C778.1,756.4 779.4,759.4 780.4,761.0C781.4,762.6 782.7,764.5 783.7,763.2C784.7,762.0 786.1,758.4 787.0,752.6C787.9,746.8 788.9,731.8 789.6,724.7C790.4,717.6 791.4,708.8 792.1,705.2C792.7,701.6 793.4,699.8 794.0,701.0C794.7,702.3 795.5,707.9 796.2,713.6C797.0,719.2 798.2,731.1 799.1,738.7C800.0,746.2 801.4,757.1 802.4,763.8C803.4,770.5 804.7,778.9 805.7,783.3C806.7,787.7 808.1,791.5 809.0,793.1C809.8,794.6 810.3,794.7 811.2,793.6C812.0,792.6 813.6,792.2 814.5,786.1C815.3,779.9 816.0,766.0 816.7,752.6C817.3,739.2 818.2,712.7 818.9,696.8C819.5,680.9 820.4,656.9 821.1,646.6C821.7,636.4 822.7,630.2 823.2,628.5C823.8,626.8 824.5,633.2 825.0,635.5C825.5,637.8 826.0,638.8 826.5,643.8C827.1,648.9 828.1,659.7 828.7,668.9C829.4,678.1 830.3,697.3 830.9,705.2C831.5,713.2 832.0,719.0 832.7,721.9C833.3,724.9 834.6,725.6 835.3,724.7C836.1,723.9 836.9,724.7 837.5,716.4C838.2,708.0 839.1,683.6 839.7,668.9C840.4,654.3 841.3,630.2 841.9,618.7C842.6,607.2 843.6,596.5 844.1,592.2C844.7,588.0 845.1,590.1 845.6,590.3C846.2,590.5 847.3,589.4 847.8,593.6C848.4,597.9 849.0,609.1 849.6,618.7C850.2,628.4 851.0,645.2 851.8,657.8C852.6,670.3 853.7,691.1 854.7,702.4C855.6,713.7 856.9,725.6 857.9,733.1C859.0,740.6 860.5,747.6 861.7,752.6C862.9,757.6 864.9,764.1 866.1,766.6C867.2,769.0 868.4,769.6 869.4,768.8C870.4,768.0 871.7,765.1 872.7,761.0C873.7,756.9 875.0,745.2 876.0,741.5C876.9,737.7 878.3,735.9 879.3,735.9C880.2,735.9 881.3,739.0 882.1,741.5C882.9,744.0 884.0,750.5 884.7,752.6C885.5,754.7 886.1,755.8 886.9,755.4C887.8,755.0 889.4,753.6 890.2,749.8C891.1,746.1 891.8,735.5 892.4,730.3C893.1,725.1 894.0,717.3 894.6,715.0C895.3,712.7 896.2,714.3 896.8,715.0C897.5,715.6 898.4,715.2 899.0,719.1C899.7,723.1 900.4,733.5 901.2,741.5C902.0,749.4 903.5,764.6 904.5,772.1C905.5,779.7 906.8,787.5 907.8,791.7C908.8,795.9 910.1,798.6 911.1,800.0C912.1,801.5 913.2,802.3 914.4,801.4C915.5,800.6 917.3,796.8 918.8,794.5C920.3,792.2 923.0,789.0 924.3,786.1C925.6,783.2 926.7,777.0 927.6,774.9C928.5,772.8 929.6,771.7 930.4,772.1C931.3,772.6 932.2,775.2 933.1,777.7C934.0,780.2 935.2,786.6 936.4,788.9C937.5,791.2 939.4,791.6 940.8,793.1C942.1,794.5 943.8,797.0 945.1,798.6C946.5,800.3 948.4,803.8 949.5,804.2C950.7,804.6 951.7,804.2 952.8,801.4C954.0,798.7 955.9,792.6 957.2,786.1C958.5,779.6 960.3,769.5 961.6,758.2C962.9,746.9 964.9,726.3 966.0,710.8C967.2,695.3 968.4,673.8 969.3,655.0C970.2,636.2 971.3,606.2 972.2,585.3C973.0,564.3 974.0,534.4 974.8,515.5C975.6,496.7 976.7,472.3 977.4,459.7C978.2,447.2 979.0,438.3 979.6,431.8C980.3,425.4 981.1,419.6 981.8,416.5C982.6,413.4 983.8,412.0 984.7,410.9C985.6,409.9 987.0,409.9 988.0,409.5C989.0,409.1 990.4,407.9 991.3,408.1C992.1,408.3 992.9,409.0 993.5,410.9C994.0,412.8 994.5,414.6 995.0,420.7C995.5,426.8 996.2,440.1 996.8,451.4C997.4,462.7 998.2,481.8 999.0,496.0C999.7,510.2 1000.8,532.0 1001.6,546.2C1002.4,560.4 1003.5,578.7 1004.4,590.8C1005.4,603.0 1006.8,617.9 1007.7,627.1C1008.7,636.3 1009.9,644.7 1011.0,652.2C1012.2,659.7 1014.1,670.2 1015.4,677.3C1016.7,684.4 1018.3,693.6 1019.8,699.6C1021.3,705.7 1023.8,713.6 1025.3,717.8C1026.8,721.9 1028.6,726.9 1029.7,727.5C1030.8,728.1 1032.0,724.7 1032.8,721.9C1033.6,719.2 1034.3,711.7 1035.0,709.4C1035.8,707.1 1037.1,706.4 1037.9,706.6C1038.7,706.8 1039.3,707.6 1040.1,710.8C1040.9,713.9 1042.0,722.1 1043.0,727.5C1043.9,733.0 1045.5,742.4 1046.7,747.0C1047.9,751.6 1049.8,756.0 1051.1,758.2C1052.4,760.4 1054.3,761.8 1055.5,761.5C1056.6,761.3 1057.9,759.8 1058.8,756.8C1059.7,753.8 1060.6,747.9 1061.4,741.5C1062.2,735.0 1063.1,721.1 1063.8,713.6C1064.6,706.0 1065.6,696.7 1066.5,691.3C1067.3,685.8 1068.9,681.1 1069.7,677.3C1070.6,673.5 1071.6,670.8 1072.4,666.2C1073.1,661.5 1074.1,653.3 1074.8,646.6C1075.5,639.9 1076.2,627.0 1076.8,621.5C1077.3,616.1 1078.0,612.2 1078.5,610.4C1079.1,608.5 1079.8,608.5 1080.3,609.0C1080.8,609.4 1081.3,609.2 1081.8,613.2C1082.4,617.1 1083.2,626.3 1084.0,635.5C1084.8,644.7 1086.3,664.5 1087.3,674.5C1088.3,684.6 1089.6,695.3 1090.6,702.4C1091.6,709.5 1092.9,718.1 1093.9,721.9C1094.9,725.8 1096.2,728.1 1097.2,728.1C1098.2,728.1 1099.6,726.6 1100.5,721.9C1101.4,717.3 1102.3,706.9 1103.1,696.8C1104.0,686.8 1105.2,668.4 1106.0,655.0C1106.7,641.6 1107.5,622.2 1108.2,607.6C1108.8,592.9 1109.8,567.2 1110.4,557.4C1110.9,547.5 1111.3,545.2 1111.9,542.0C1112.6,538.9 1114.1,535.4 1114.8,536.4C1115.4,537.5 1115.8,541.7 1116.3,549.0C1116.8,556.3 1117.5,574.8 1118.1,585.3C1118.7,595.7 1119.6,612.7 1120.3,618.7C1120.9,624.8 1121.7,624.5 1122.5,625.7C1123.2,626.9 1124.3,625.5 1125.1,626.5C1125.9,627.6 1127.2,628.8 1128.0,632.7C1128.7,636.5 1129.3,643.4 1130.1,652.2C1131.0,661.0 1132.3,680.4 1133.4,691.3C1134.6,702.1 1136.4,716.4 1137.8,724.7C1139.3,733.1 1142.0,742.6 1143.3,747.0C1144.6,751.4 1145.7,752.6 1146.6,754.0C1147.5,755.5 1148.3,757.4 1149.3,756.8C1150.2,756.2 1151.8,754.6 1152.8,749.8C1153.7,745.0 1154.5,734.4 1155.4,724.7C1156.3,715.1 1157.7,698.2 1158.7,685.7C1159.7,673.1 1161.1,653.6 1162.0,641.0C1162.9,628.5 1164.0,611.2 1164.6,602.0C1165.3,592.8 1165.9,583.7 1166.4,579.7C1166.9,575.7 1167.6,575.3 1168.1,575.5C1168.7,575.7 1169.7,575.4 1170.3,581.1C1171.0,586.7 1171.8,602.1 1172.5,613.2C1173.3,624.2 1174.4,643.3 1175.2,655.0C1176.0,666.7 1176.9,683.9 1177.8,691.3C1178.7,698.6 1180.4,703.8 1181.3,703.8C1182.2,703.8 1183.2,698.6 1184.0,691.3C1184.7,683.9 1185.9,665.9 1186.6,655.0C1187.3,644.1 1188.2,626.5 1188.8,618.7C1189.4,611.0 1189.8,606.0 1190.5,603.4C1191.3,600.8 1193.0,601.9 1193.8,601.4C1194.7,601.0 1195.7,603.0 1196.5,600.6C1197.2,598.2 1198.1,593.4 1198.9,585.3C1199.7,577.1 1200.7,557.9 1201.5,546.2C1202.3,534.5 1203.3,517.6 1204.2,507.2C1205.0,496.7 1206.3,484.4 1207.0,476.5C1207.8,468.5 1208.6,458.3 1209.2,454.2C1209.9,450.0 1210.9,449.4 1211.4,448.6C1212.0,447.7 1212.5,446.5 1212.9,448.6C1213.4,450.7 1214.1,455.0 1214.7,462.5C1215.3,470.1 1216.2,487.9 1216.9,498.8C1217.6,509.7 1218.4,524.2 1219.1,535.0C1219.8,545.9 1221.0,562.5 1221.7,571.3C1222.5,580.1 1223.2,588.8 1223.9,593.6C1224.7,598.4 1225.9,601.3 1226.8,603.4C1227.7,605.5 1229.1,605.7 1230.1,607.6C1231.1,609.5 1232.4,611.8 1233.4,615.9C1234.4,620.1 1235.5,629.2 1236.7,635.5C1237.8,641.7 1239.6,651.5 1241.1,657.8C1242.5,664.1 1244.6,671.5 1246.6,677.3C1248.5,683.2 1251.8,691.4 1254.2,696.8C1256.7,702.3 1260.4,709.2 1263.0,713.6C1265.7,718.0 1268.8,722.6 1271.8,726.1C1274.8,729.7 1279.5,733.9 1282.8,737.3C1286.1,740.6 1291.1,745.9 1293.8,748.4C1296.4,750.9 1298.7,752.8 1300.4,754.0C1302.0,755.3 1303.4,756.8 1304.8,756.8C1306.1,756.8 1307.9,756.3 1309.2,754.0C1310.4,751.7 1312.1,747.1 1313.1,741.5C1314.1,735.8 1315.0,726.4 1315.7,716.4C1316.5,706.3 1317.3,685.0 1317.9,674.5C1318.6,664.1 1319.4,652.4 1320.1,646.6C1320.9,640.9 1322.0,636.0 1322.8,636.0C1323.5,636.0 1324.3,640.9 1325.0,646.6C1325.6,652.4 1326.4,665.7 1327.2,674.5C1327.9,683.3 1329.2,696.8 1330.1,705.2C1331.0,713.6 1332.1,724.2 1333.1,730.3C1334.2,736.4 1335.8,742.1 1337.1,745.6C1338.3,749.2 1340.2,752.5 1341.5,754.0C1342.8,755.6 1344.6,757.0 1345.9,756.0C1347.2,754.9 1349.1,750.9 1350.3,747.0C1351.4,743.2 1352.6,737.8 1353.6,730.3C1354.5,722.8 1355.7,709.4 1356.4,696.8C1357.2,684.3 1358.0,660.9 1358.6,646.6C1359.3,632.4 1360.3,610.8 1360.8,602.0C1361.4,593.2 1361.8,590.5 1362.3,588.0C1362.9,585.6 1364.0,585.4 1364.5,585.8C1365.1,586.2 1365.8,585.9 1366.3,590.8C1366.8,595.8 1367.3,607.9 1367.8,618.7C1368.4,629.6 1369.3,651.6 1370.0,663.4C1370.8,675.1 1371.7,688.5 1372.7,696.8C1373.6,705.2 1375.1,714.8 1376.2,719.1C1377.3,723.5 1378.9,725.7 1379.9,726.1C1381.0,726.5 1382.4,724.2 1383.2,721.9C1384.0,719.6 1384.7,713.0 1385.4,710.8C1386.1,708.6 1387.2,707.2 1388.0,707.4C1388.9,707.6 1390.0,709.6 1390.9,712.2C1391.8,714.8 1393.0,721.2 1394.2,724.7C1395.3,728.3 1396.9,733.0 1398.6,735.9C1400.2,738.8 1402.9,742.0 1405.2,744.3C1407.5,746.6 1411.7,749.6 1414.0,751.2C1416.3,752.9 1418.6,753.9 1420.6,755.4C1422.5,756.9 1425.5,759.7 1427.1,761.0C1428.8,762.2 1430.5,763.8 1431.5,763.8C1432.6,763.8 1433.4,764.3 1434.2,761.0C1434.9,757.6 1435.7,749.8 1436.4,741.5C1437.0,733.1 1437.9,714.4 1438.6,705.2C1439.2,696.0 1440.1,685.0 1440.8,680.1C1441.4,675.2 1442.3,672.3 1443.0,672.3C1443.6,672.3 1444.5,675.2 1445.2,680.1C1445.8,685.0 1446.6,697.7 1447.3,705.2C1448.1,712.7 1449.3,724.4 1450.2,730.3C1451.1,736.2 1452.5,741.2 1453.5,744.3C1454.5,747.3 1455.8,749.3 1456.8,750.4C1457.8,751.4 1459.2,752.1 1460.1,751.2C1461.0,750.3 1461.9,748.2 1462.7,744.3C1463.5,740.3 1464.7,728.7 1465.6,724.7C1466.4,720.8 1467.6,718.0 1468.4,717.8C1469.3,717.5 1470.3,720.2 1471.1,723.3C1471.9,726.5 1472.9,735.1 1473.7,738.7C1474.5,742.2 1475.8,745.7 1476.6,747.0C1477.3,748.4 1478.0,748.9 1478.8,747.6C1479.5,746.3 1480.8,741.9 1481.6,738.7C1482.4,735.5 1483.5,728.2 1484.2,726.1C1485.0,724.0 1485.7,724.5 1486.4,724.7C1487.2,724.9 1488.3,725.4 1489.1,727.5C1489.9,729.6 1491.0,735.5 1491.9,738.7C1492.9,741.8 1494.1,746.3 1495.2,748.4C1496.4,750.5 1498.0,751.5 1499.6,752.6C1501.3,753.8 1503.9,755.1 1506.2,756.0C1508.5,756.8 1512.4,757.5 1515.0,758.2C1517.6,758.9 1521.6,760.0 1523.8,760.4C1525.9,760.9 1527.8,761.3 1529.3,761.0C1530.8,760.7 1532.3,760.1 1533.7,758.2C1535.0,756.3 1536.9,750.5 1538.1,748.4C1539.2,746.3 1540.4,744.3 1541.4,744.3C1542.3,744.3 1543.5,746.8 1544.6,748.4C1545.8,750.1 1547.4,753.6 1549.0,755.4C1550.7,757.2 1553.5,759.3 1555.6,760.4C1557.8,761.6 1561.2,762.8 1563.3,763.2C1565.5,763.6 1568.4,763.8 1569.9,763.2C1571.4,762.7 1572.2,762.0 1573.2,759.6C1574.2,757.2 1575.5,750.4 1576.5,747.0C1577.5,743.7 1578.9,739.0 1579.8,737.3C1580.7,735.6 1581.8,735.5 1582.6,735.9C1583.5,736.3 1584.4,738.0 1585.3,740.1C1586.2,742.2 1587.6,747.5 1588.6,749.8C1589.6,752.1 1590.8,754.4 1591.9,755.4C1593.0,756.5 1595.2,756.6 1595.8,756.8"/>
</g>
<g font-family="'Liberation Sans', sans-serif" fill="#000">
<text transform="translate(266,1647.6) scale(1,1.015)" font-size="90">1400</text>
<text transform="translate(638,1647.6) scale(1,1.015)" font-size="90">1200</text>
<text transform="translate(1009,1647.6) scale(1,1.015)" font-size="90">1000</text>
<text transform="translate(1402.2,1647.6) scale(1,1.015)" font-size="90">800</text>
<text transform="translate(1771.6,1647.6) scale(1,1.015)" font-size="90">600</text>
<text x="702.9" y="1776.0" font-size="89.8" letter-spacing="-0.3">Wavenumber (cm<tspan font-size="63" dy="-27.5" dx="1.5" letter-spacing="0">-1</tspan><tspan dy="27.5" dx="0">)</tspan></text>
<text transform="translate(114.9,1037.9) rotate(-90)" font-size="89.6">Absorbance</text>
<text transform="translate(672.3,264) rotate(-90) scale(1,1.015)" font-size="90">1246</text>
<text transform="translate(793.3,263) rotate(-90) scale(1,1.015)" font-size="90">1180</text>
<text transform="translate(898.2,263) rotate(-90) scale(1,1.015)" font-size="90">1126</text>
<text transform="translate(984.1,264) rotate(-90) scale(1,1.015)" font-size="90">1080</text>
<text transform="translate(1082,264) rotate(-90) scale(1,1.015)" font-size="90">1028</text>
<text transform="translate(1286.6,212.2) rotate(-90) scale(1,1.015)" font-size="90">916</text>
<text transform="translate(1401.9,212.4) rotate(-90) scale(1,1.015)" font-size="90">853</text>
</g>
<text font-family="'Liberation Sans', sans-serif" x="1889.8 1920.3 1974.5" y="600.6" font-size="94.0" fill="#f00">(a)</text>
<text font-family="'Liberation Sans', sans-serif" x="1889.7 1922.0 1979.6" y="966.8" font-size="96.4" fill="#00f">(b)</text>
<text font-family="'Liberation Sans', sans-serif" x="1890.2 1922.5 1974.2" y="1331.6" font-size="95.0" fill="#000">(c)</text>
</svg>
</body>
</html>
